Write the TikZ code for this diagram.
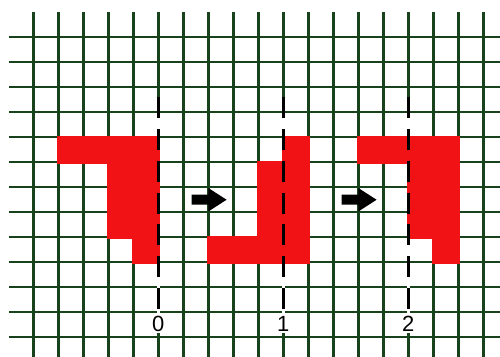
\documentclass[tikz,border=0pt]{standalone}
\usepackage{fontspec}
\setmainfont{Liberation Sans}
\usepackage{xcolor}
\usepackage{tikz}
\usetikzlibrary{positioning, calc}

\definecolor{gridgreen}{RGB}{24,66,28}
\definecolor{piecered}{RGB}{240,18,20}

\begin{document}
\begin{tikzpicture}[
  x=0.5cm, y=0.5cm,
  gridline/.style={draw=gridgreen, line width=1.35pt},
  clearline/.style={draw=white, line width=2pt},
  redpiece/.style={fill=piecered, draw=piecered, line width=1.5pt},
  axisline/.style={draw=black, line width=1.5pt, dash pattern=on 11.9pt off 6.2pt},
  axislabel/.style={fill=white, inner sep=1pt, font=\fontsize{12.5}{14}\selectfont},
  blockarrow/.style={fill=black}
]
  \useasboundingbox (-1.333,-0.79) rectangle (18.667,13.49);

  % grid
  \foreach \i in {0,...,18}
    \draw[gridline] (\i,-0.79) -- (\i,13);
  \foreach \j in {0,...,12}
    \draw[gridline] (-0.97,\j) -- (18.667,\j);

  % axes: labels and cleared strips
  \foreach \x/\t in {5/0, 10/1, 15/2} {
    \node[axislabel] (lab\t) at (\x,0.55) {\t};
    \coordinate (top\t) at (\x,9.6);
    \draw[clearline] (top\t) -- (lab\t.north);
  }

  % the three pieces
  \draw[redpiece] (1,8) -| (5,3) -| (4,4) -| (3,7) -| cycle;
  \draw[redpiece] (7,3) -| (11,8) -| (10,7) -| (9,4) -| cycle;
  \draw[redpiece] (13,8) -| (17,3) -| (16,4) -| (15,7) -| cycle;

  % dashed axes on top
  \foreach \t in {0,1,2}
    \draw[axisline] (top\t) -- (lab\t.north);

  % arrows between the steps
  \foreach \x in {6.33, 12.33}
    \fill[blockarrow] (\x,5.3) -- ++(0.67,0) -- ++(0,-0.27) -- ++(0.73,0.47)
      -- ++(-0.73,0.47) -- ++(0,-0.27) -- ++(-0.67,0) -- cycle;
\end{tikzpicture}
\end{document}
